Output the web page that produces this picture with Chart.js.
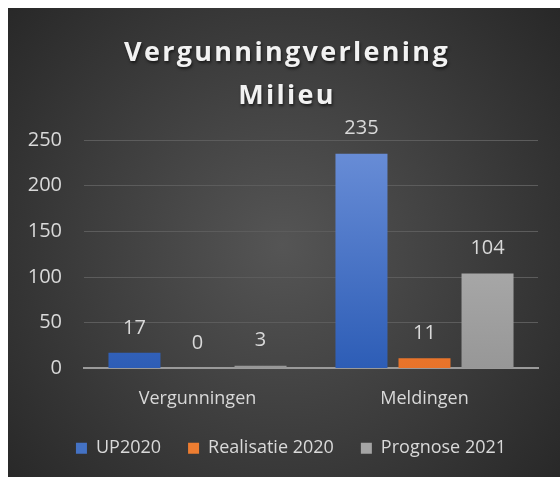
<!DOCTYPE html>
<html>
<head>
<meta charset="utf-8">
<script src="https://cdn.jsdelivr.net/npm/chart.js@4"></script>
<style>
  body { margin: 0; background: #fff; }
  canvas { display: block; }
</style>
</head>
<body>
<canvas id="chart" width="560" height="477"></canvas>
<script>
const categories = ['Vergunningen', 'Meldingen'];
const up2020 = [17, 235];
const realisatie2020 = [0, 11];
const prognose2021 = [3, 104];
const titleLines = ['Vergunningverlening', 'Milieu'];

const FONT = "'Open Sans', 'Noto Sans', sans-serif";
const TEXT = '#d9d9d9';

// top / bottom colours of the bar gradients, legend uses the middle one
const colors = {
    blue: ['#6b8fd8', '#2d5db6', '#4472c4'],
    orange: ['#f8953f', '#e8732a', '#ed7d31'],
    gray: ['#bcbcbc', '#979797', '#a5a5a5']
};

const barFill = (c) => (ctx) => {
    const area = ctx.chart.chartArea;
    if (!area) return c[2];
    const g = ctx.chart.ctx.createLinearGradient(0, area.top, 0, area.bottom);
    g.addColorStop(0, c[0]);
    g.addColorStop(1, c[1]);
    return g;
};

const background = {
    id: 'background',
    beforeDraw(chart) {
        const { ctx, width, height } = chart;
        ctx.save();
        ctx.fillStyle = '#fff';
        ctx.fillRect(0, 0, width, height);
        const g = ctx.createRadialGradient(282, 245, 0, 282, 245, 380);
        g.addColorStop(0, '#555555');
        g.addColorStop(1, '#262626');
        ctx.fillStyle = g;
        ctx.fillRect(8, 8, width - 8, height - 8);
        ctx.restore();
    }
};

// legend sits a bit right of centre and closer to the axis labels
const legendPlace = {
    id: 'legendPlace',
    afterLayout(chart) {
        const lg = chart.legend;
        const dx = 18;
        const dy = 450 - (lg.top + 27 + 10.8);
        lg.left += dx; lg.right += dx;
        lg.top += dy; lg.bottom += dy;
    }
};

const titlePlugin = {
    id: 'titleText',
    afterDraw(chart) {
        const { ctx } = chart;
        ctx.save();
        ctx.font = `bold 27px ${FONT}`;
        ctx.letterSpacing = '2.3px';
        ctx.fillStyle = '#f2f2f2';
        ctx.textAlign = 'center';
        ctx.textBaseline = 'alphabetic';
        ctx.shadowColor = 'rgba(0,0,0,0.6)';
        ctx.shadowBlur = 3;
        ctx.shadowOffsetX = 1;
        ctx.shadowOffsetY = 2;
        ctx.fillText(titleLines[0], 287, 61);
        ctx.fillText(titleLines[1], 287, 104);
        ctx.restore();
    }
};

const valueLabels = {
    id: 'valueLabels',
    afterDatasetsDraw(chart) {
        const { ctx } = chart;
        ctx.save();
        ctx.font = `20px ${FONT}`;
        ctx.fillStyle = TEXT;
        ctx.textAlign = 'center';
        ctx.textBaseline = 'middle';
        chart.data.datasets.forEach((ds, i) => {
            chart.getDatasetMeta(i).data.forEach((bar, j) => {
                ctx.fillText(ds.data[j], bar.x, bar.y - 25);
            });
        });
        ctx.restore();
    }
};

new Chart(document.getElementById('chart'), {
    type: 'bar',
    data: {
        labels: categories,
        datasets: [
            { label: 'UP2020', data: up2020, backgroundColor: barFill(colors.blue), legendColor: colors.blue[2] },
            { label: 'Realisatie 2020', data: realisatie2020, backgroundColor: barFill(colors.orange), legendColor: colors.orange[2] },
            { label: 'Prognose 2021', data: prognose2021, backgroundColor: barFill(colors.gray), legendColor: colors.gray[2] }
        ]
    },
    options: {
        responsive: false,
        animation: false,
        categoryPercentage: 0.833,
        barPercentage: 0.825,
        layout: { padding: { top: 140, left: 8, right: 22, bottom: -8 } },
        scales: {
            x: {
                grid: { display: false, drawTicks: false },
                border: { color: '#9a9a9a', width: 2 },
                ticks: { color: TEXT, font: { family: FONT, size: 18 }, padding: 20 }
            },
            y: {
                min: 0,
                max: 250,
                ticks: { stepSize: 50, color: TEXT, font: { family: FONT, size: 20 }, padding: 22 },
                grid: { color: '#5c5c5c', drawTicks: false },
                border: { display: false },
                afterFit(scale) { scale.width = 76; }
            }
        },
        plugins: {
            legend: {
                position: 'bottom',
                labels: {
                    color: TEXT,
                    font: { family: FONT, size: 18 },
                    boxWidth: 11,
                    boxHeight: 11,
                    padding: 27,
                    generateLabels(chart) {
                        return Chart.defaults.plugins.legend.labels.generateLabels(chart).map((item, i) => {
                            item.fillStyle = chart.data.datasets[i].legendColor;
                            item.strokeStyle = 'transparent';
                            item.lineWidth = 0;
                            return item;
                        });
                    }
                }
            },
            tooltip: { enabled: false }
        }
    },
    plugins: [background, legendPlace, titlePlugin, valueLabels]
});
</script>
</body>
</html>
